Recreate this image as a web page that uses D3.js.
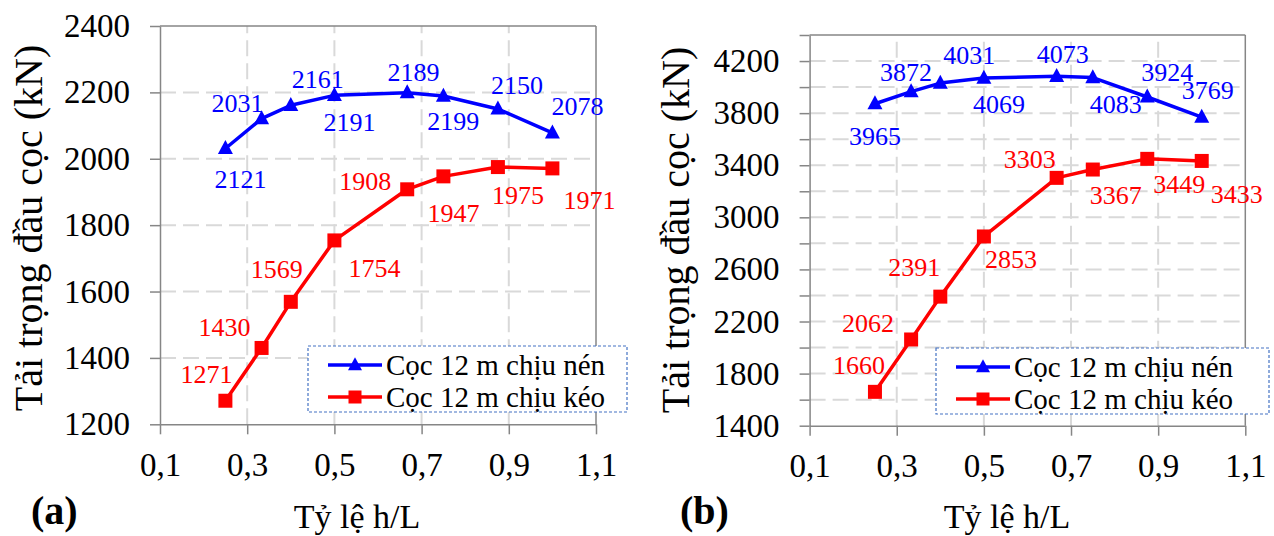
<!DOCTYPE html>
<html>
<head>
<meta charset="utf-8">
<script src="https://cdn.jsdelivr.net/npm/d3@7"></script>
<style>
  body { margin: 0; background: #fff; }
  svg { display: block; font-family: "Liberation Serif", "Times New Roman", serif; }
</style>
</head>
<body>
<svg id="chart" width="1274" height="536"></svg>
<script>
// data
const ratios = [0.25, 0.333, 0.4, 0.5, 0.667, 0.75, 0.875, 1.0];
const xTicks = [0.1, 0.3, 0.5, 0.7, 0.9, 1.1];

const nenA = [2031, 2121, 2161, 2191, 2199, 2189, 2150, 2078];
const keoA = [1271, 1430, 1569, 1754, 1908, 1947, 1975, 1971];
const yTicksA = [1200, 1400, 1600, 1800, 2000, 2200, 2400];

const nenB = [3872, 3965, 4031, 4069, 4083, 4073, 3924, 3769];
const keoB = [1660, 2062, 2391, 2853, 3303, 3367, 3449, 3433];
const yTicksB = [1400, 1600, 1800, 2000, 2200, 2400, 2600, 2800, 3000, 3200, 3400, 3600, 3800, 4000, 4200, 4400];
const yLabelsB = [1400, 1800, 2200, 2600, 3000, 3400, 3800, 4200];

const seriesNames = ["Cọc 12 m chịu nén", "Cọc 12 m chịu kéo"];
const xTitle = "Tỷ lệ h/L";
const yTitle = "Tải trọng đầu cọc (kN)";

// label offsets (px from marker), placed like the original
const offNenA = [[12, -36], [-21, 69], [27, -17], [15, 36], [46, 37], [-30, -15], [19, -15], [25, -18]];
const offKeoA = [[-19, -18], [-37, -12], [-14, -24], [40, 37], [-42, 1], [10, 46], [20, 37], [37, 41]];
const offNenB = [[31, -23], [-36, 53], [29, -19], [15, 35], [59, 37], [-30, -15], [20, -16], [6, -18]];
const offKeoB = [[-16, -18], [-43, -7], [-26, -21], [27, 32], [-27, -10], [23, 34], [32, 34], [35, 42]];

const svg = d3.select("#chart");
const fmt = d3.formatLocale({ decimal: ",", thousands: ".", grouping: [3], currency: ["", ""] }).format(".1f");

const BLUE = "#0000ff", RED = "#ff0000", AXIS = "#868686", GRID = "#d9d9d9";
const SERIF = "'Liberation Serif', 'Times New Roman', serif";

function triangle(w, h) {
	return `M0,${-h * 0.6}L${w / 2},${h * 0.4}L${-w / 2},${h * 0.4}Z`;
}

function panel(cfg) {
	const g = svg.append("g");
	const x = d3.scaleLinear().domain([0.1, 1.1]).range(cfg.xr);
	const y = d3.scaleLinear().domain(cfg.yd).range(cfg.yr);
	const [x0, x1] = cfg.xr;
	const [y0, y1] = cfg.yr;

	// grid
	g.append("g").selectAll("line")
		.data(cfg.yTicks.filter((d) => d > cfg.yd[0] && d < cfg.yd[1]))
		.join("line")
		.attr("x1", x0).attr("x2", x1)
		.attr("y1", (d) => y(d)).attr("y2", (d) => y(d))
		.attr("stroke", GRID).attr("stroke-width", 2).attr("stroke-dasharray", "16,7");
	g.append("g").selectAll("line")
		.data(xTicks.slice(1, -1))
		.join("line")
		.attr("x1", (d) => x(d)).attr("x2", (d) => x(d))
		.attr("y1", y0).attr("y2", y1)
		.attr("stroke", GRID).attr("stroke-width", 2).attr("stroke-dasharray", "16,7");

	// border top / right
	g.append("line").attr("x1", x0).attr("x2", x1).attr("y1", y1).attr("y2", y1)
		.attr("stroke", AXIS).attr("stroke-width", 1.5);
	g.append("line").attr("x1", x1).attr("x2", x1).attr("y1", y0).attr("y2", y1)
		.attr("stroke", AXIS).attr("stroke-width", 1.5);

	// axes
	const yAxis = d3.axisLeft(y).tickValues(cfg.yTicks).tickSize(10).tickSizeOuter(0).tickPadding(20)
		.tickFormat((d) => (cfg.yLabels.includes(d) ? d : ""));
	const ga = g.append("g").attr("transform", `translate(${x0},0)`).call(yAxis);
	const xAxis = d3.axisBottom(x).tickValues(xTicks).tickSize(10).tickSizeOuter(0).tickPadding(18).tickFormat(fmt);
	const gb = g.append("g").attr("transform", `translate(0,${y0})`).call(xAxis);
	[ga, gb].forEach((a) => {
		a.attr("font-family", SERIF);
		a.selectAll("path, line").attr("stroke", AXIS).attr("stroke-width", 1.5);
		a.selectAll("text").attr("fill", "#000").attr("font-size", 33);
	});

	// titles
	g.append("text").attr("x", cfg.xTitleX).attr("y", 528).attr("text-anchor", "middle")
		.attr("font-size", 34).text(xTitle);
	g.append("text").attr("transform", `translate(${cfg.yTitleX},${cfg.yTitleY}) rotate(-90)`)
		.attr("text-anchor", "middle").attr("font-size", 40).text(yTitle);
	g.append("text").attr("x", cfg.tagX).attr("y", 524).attr("font-size", 40).attr("font-weight", "bold")
		.text(cfg.tag);

	// series
	const line = d3.line().x((d) => x(d[0])).y((d) => y(d[1]));
	const series = [
		{ vals: cfg.nen, color: BLUE, off: cfg.offNen, mark: "tri" },
		{ vals: cfg.keo, color: RED, off: cfg.offKeo, mark: "sq" },
	];
	series.forEach((s) => {
		const pts = ratios.map((r, i) => [r, s.vals[i]]);
		g.append("path").attr("d", line(pts)).attr("fill", "none")
			.attr("stroke", s.color).attr("stroke-width", 3.5).attr("stroke-linejoin", "round");
		g.append("g").selectAll("path").data(pts).join("path")
			.attr("transform", (d) => `translate(${x(d[0])},${y(d[1])})`)
			.attr("d", s.mark === "tri" ? triangle(15, 14) : d3.symbol(d3.symbolSquare, 196)())
			.attr("fill", s.color);
		g.append("g").selectAll("text").data(pts).join("text")
			.attr("x", (d, i) => x(d[0]) + s.off[i][0])
			.attr("y", (d, i) => y(d[1]) + s.off[i][1])
			.attr("text-anchor", "middle").attr("font-size", 26).attr("fill", s.color)
			.text((d) => d[1]);
	});

	// legend
	const [lx, ly, lw, lh] = cfg.legend;
	const lg = g.append("g").attr("transform", `translate(${lx},${ly})`);
	lg.append("rect").attr("width", lw).attr("height", lh).attr("fill", "#fff")
		.attr("stroke", "#4472c4").attr("stroke-width", 1.2).attr("stroke-dasharray", "3,2");
	series.forEach((s, i) => {
		const cy = 19 + i * 32;
		lg.append("line").attr("x1", 20).attr("x2", 74).attr("y1", cy).attr("y2", cy)
			.attr("stroke", s.color).attr("stroke-width", 3.5);
		lg.append("path").attr("transform", `translate(47,${cy})`)
			.attr("d", s.mark === "tri" ? triangle(14, 13) : d3.symbol(d3.symbolSquare, 169)())
			.attr("fill", s.color);
		lg.append("text").attr("x", 78).attr("y", cy + 10).attr("font-size", 29).text(seriesNames[i]);
	});
}

panel({
	xr: [160, 596], yd: [1200, 2400], yr: [424.3, 26],
	yTicks: yTicksA, yLabels: yTicksA,
	nen: nenA, keo: keoA, offNen: offNenA, offKeo: offKeoA,
	xTitleX: 357, yTitleX: 42, yTitleY: 228, tag: "(a)", tagX: 31,
	legend: [308, 346, 319, 66],
});

panel({
	xr: [809.6, 1245.3], yd: [1400, 4400], yr: [425.7, 35],
	yTicks: yTicksB, yLabels: yLabelsB,
	nen: nenB, keo: keoB, offNen: offNenB, offKeo: offKeoB,
	xTitleX: 1007, yTitleX: 689, yTitleY: 230, tag: "(b)", tagX: 680,
	legend: [936, 348, 333, 66],
});
</script>
</body>
</html>
